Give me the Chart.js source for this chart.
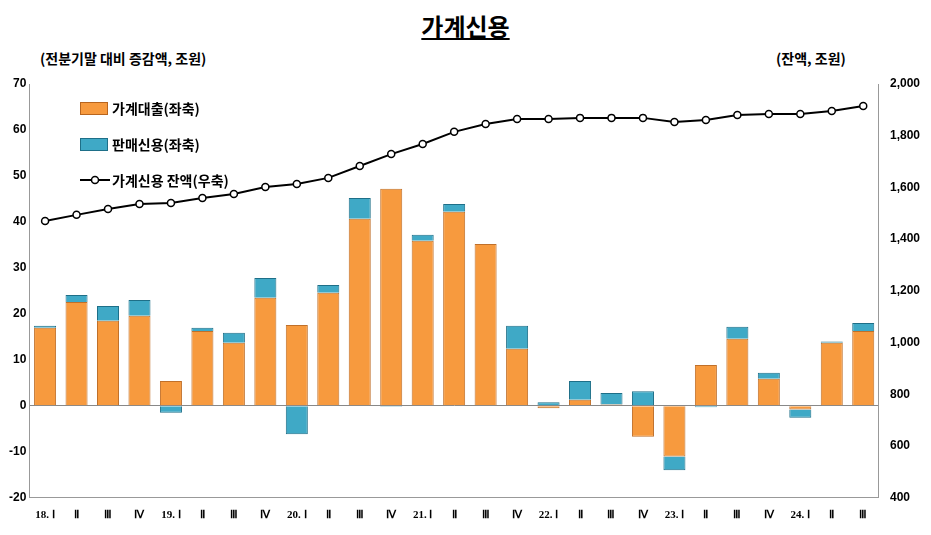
<!DOCTYPE html>
<html><head><meta charset="utf-8">
<script src="https://cdn.jsdelivr.net/npm/chart.js@4"></script>
<style>
body{margin:0;background:#fff;font-family:"Noto Sans CJK KR",sans-serif;}
#wrap{position:relative;width:931px;height:535px;}
#title{position:absolute;top:8px;left:0;width:931px;text-align:center;font-size:24px;font-weight:bold;}
#title span{text-decoration:underline;}
.ax{position:absolute;top:48px;font-size:14px;font-weight:bold;}
#leg{position:absolute;left:80px;top:90px;font-size:14px;font-weight:bold;}
#leg div{height:36px;display:flex;align-items:center;}
.sw{width:26px;height:11px;margin-right:4px;}
canvas{position:absolute;left:0;top:0;}
</style></head><body>
<div id="wrap">
<div id="title"><span>가계신용</span></div>
<div class="ax" style="left:40px">(전분기말 대비 증감액, 조원)</div>
<div class="ax" style="left:776px">(잔액, 조원)</div>
<canvas id="c" width="931" height="535"></canvas>
<div id="leg">
<div><span class="sw" style="background:#F79A3E;border:1px solid #B8651E"></span>가계대출(좌축)</div>
<div><span class="sw" style="background:#3FA9C6;border:1px solid #1E6F88"></span>판매신용(좌축)</div>
<div><svg width="30" height="12" style="margin-right:2px"><line x1="0" y1="6" x2="30" y2="6" stroke="#000" stroke-width="2"/><circle cx="15" cy="6" r="3.5" fill="#fff" stroke="#000" stroke-width="1.5"/></svg>가계신용 잔액(우축)</div>
</div>
</div>
<script>
const categories=["18. Ⅰ","Ⅱ","Ⅲ","Ⅳ","19. Ⅰ","Ⅱ","Ⅲ","Ⅳ","20. Ⅰ","Ⅱ","Ⅲ","Ⅳ","21. Ⅰ","Ⅱ","Ⅲ","Ⅳ","22. Ⅰ","Ⅱ","Ⅲ","Ⅳ","23. Ⅰ","Ⅱ","Ⅲ","Ⅳ","24. Ⅰ","Ⅱ","Ⅲ"];
const householdLoans=[17,22.6,18.5,19.6,5.4,16.3,13.7,23.5,17.6,24.6,40.7,47.2,35.9,42.2,35.2,12.4,-0.5,1.3,0.3,-6.7,-11,8.9,14.6,5.9,-0.8,13.7,16.3];
const salesCredit=[0.4,1.5,3.2,3.4,-1.5,0.7,2.2,4.3,-6.2,1.7,4.5,-0.2,1.3,1.7,0,5,0.8,4.1,2.5,3.2,-3,-0.3,2.6,1.3,-1.8,0.3,1.7];
const balance=[1470,1494,1517,1536,1540,1559,1575,1602,1613,1637,1683,1729,1768,1815,1845,1865,1865,1869,1869,1869,1853,1861,1880,1884,1884,1896,1915];
new Chart(document.getElementById('c'),{
 data:{labels:categories,datasets:[
  {type:'line',data:balance,yAxisID:'y2',borderColor:'#000',borderWidth:2,pointRadius:3.5,pointBackgroundColor:'#fff',pointBorderColor:'#000',pointBorderWidth:1.5,order:0},
  {type:'bar',data:householdLoans,yAxisID:'y',stack:'s',backgroundColor:'#F79A3E',borderColor:'#C0702A',borderWidth:1,categoryPercentage:0.7,barPercentage:1,order:1},
  {type:'bar',data:salesCredit,yAxisID:'y',stack:'s',backgroundColor:'#3FA9C6',borderColor:'#1E6F88',borderWidth:1,categoryPercentage:0.7,barPercentage:1,order:1}
 ]},
 options:{responsive:false,animation:false,
  layout:{padding:{left:6,right:8,top:84,bottom:10}},
  plugins:{legend:{display:false},tooltip:{enabled:false}},
  scales:{
   x:{stacked:true,grid:{display:false},border:{color:'#999'},ticks:{font:{size:11,weight:'bold',family:'Liberation Serif'},color:'#000',maxRotation:0,autoSkip:false}},
   y:{stacked:true,min:-20,max:70,ticks:{stepSize:10,font:{size:12,weight:'bold'},color:'#000'},grid:{display:true,drawOnChartArea:true,color:c=>c.tick.value===0?'#888':'rgba(0,0,0,0)',drawTicks:false},border:{color:'#999'}},
   y2:{position:'right',min:400,max:2000,ticks:{stepSize:200,font:{size:12,weight:'bold'},color:'#000',callback:v=>v.toLocaleString('en-US')},grid:{display:false},border:{color:'#999'}}
  }}
});
</script></body></html>
